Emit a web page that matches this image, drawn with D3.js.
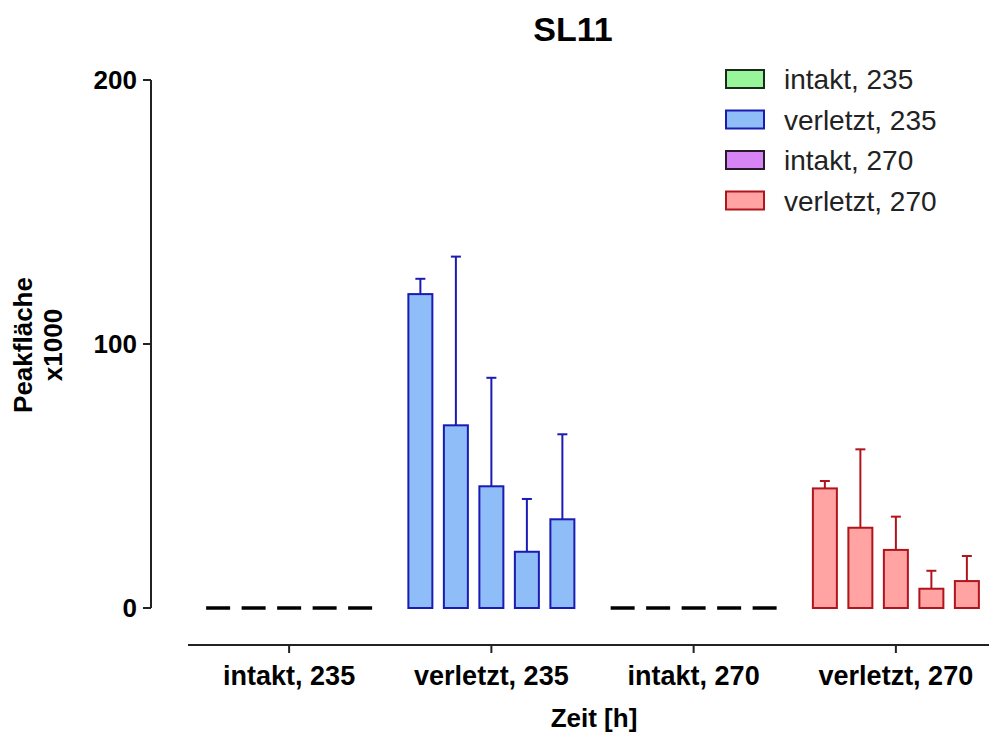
<!DOCTYPE html>
<html>
<head>
<meta charset="utf-8">
<script src="https://cdn.jsdelivr.net/npm/d3@7"></script>
<style>
body { margin: 0; background: #fff; }
text { font-family: "Liberation Sans", Arial, sans-serif; }
</style>
</head>
<body>
<div id="chart"></div>
<script>
// Gruppen (x-Achse) und Werte (Peakfläche x1000), je 5 Zeitpunkte
var groups = ["intakt, 235", "verletzt, 235", "intakt, 270", "verletzt, 270"];
var intakt235 = [0, 0, 0, 0, 0];
var verletzt235 = [118.9, 69.2, 46.1, 21.3, 33.6];
var intakt270 = [0, 0, 0, 0, 0];
var verletzt270 = [45.3, 30.4, 22.0, 7.3, 10.2];
// obere Fehlerbalken (SD)
var err235 = [5.8, 63.9, 41.1, 20.0, 32.2];
var err270 = [2.8, 29.7, 12.6, 6.8, 9.5];
var yTicks = [0, 100, 200];

var series = [
    {name: groups[0], values: intakt235, err: [0,0,0,0,0], fill: "#99f599", stroke: "#1b2b1b"},
    {name: groups[1], values: verletzt235, err: err235, fill: "#8fbdf7", stroke: "#1a1ab4"},
    {name: groups[2], values: intakt270, err: [0,0,0,0,0], fill: "#d784f6", stroke: "#2a1a2a"},
    {name: groups[3], values: verletzt270, err: err270, fill: "#ffa3a3", stroke: "#b0141c"}
];

var W = 989, H = 733;
var svg = d3.select("#chart").append("svg")
    .attr("width", W)
    .attr("height", H);

var y = d3.scaleLinear().domain([0, 200]).range([608, 80]);
var x = d3.scaleBand().domain(groups).range([188, 997]);
var xi = d3.scaleBand().domain(d3.range(5)).range([-83, 83]).paddingInner(0.324).paddingOuter(0);

// Titel
svg.append("text")
    .attr("x", 573).attr("y", 41)
    .attr("text-anchor", "middle")
    .style("font-size", "34px").style("font-weight", "bold")
    .text("SL11");

// y-Achse
var yAxis = svg.append("g");
yAxis.append("line")
    .attr("x1", 151).attr("x2", 151)
    .attr("y1", y(200)).attr("y2", y(0))
    .attr("stroke", "#222").attr("stroke-width", 2);
yAxis.selectAll(".ytick").data(yTicks).enter().append("line")
    .attr("x1", 143).attr("x2", 151)
    .attr("y1", function(d){ return y(d); })
    .attr("y2", function(d){ return y(d); })
    .attr("stroke", "#222").attr("stroke-width", 2);
yAxis.selectAll(".ylab").data(yTicks).enter().append("text")
    .attr("x", 137)
    .attr("y", function(d){ return y(d) + 9; })
    .attr("text-anchor", "end")
    .style("font-size", "26px").style("font-weight", "bold")
    .text(function(d){ return d; });

var ylab = svg.append("text")
    .attr("transform", "translate(32,345) rotate(-90)")
    .attr("text-anchor", "middle")
    .style("font-size", "26px").style("font-weight", "bold");
ylab.append("tspan").attr("x", 0).attr("dy", 0).text("Peakfläche");
ylab.append("tspan").attr("x", 0).attr("dy", 30).text("x1000");

// x-Achse
var xAxis = svg.append("g");
xAxis.append("line")
    .attr("x1", 188).attr("x2", W)
    .attr("y1", 645).attr("y2", 645)
    .attr("stroke", "#222").attr("stroke-width", 2);
xAxis.selectAll(".xtick").data(groups).enter().append("line")
    .attr("x1", function(d){ return x(d) + x.bandwidth()/2; })
    .attr("x2", function(d){ return x(d) + x.bandwidth()/2; })
    .attr("y1", 645).attr("y2", 653)
    .attr("stroke", "#222").attr("stroke-width", 2);
xAxis.selectAll(".xlab").data(groups).enter().append("text")
    .attr("x", function(d){ return x(d) + x.bandwidth()/2; })
    .attr("y", 685)
    .attr("text-anchor", "middle")
    .style("font-size", "27px").style("font-weight", "bold")
    .text(function(d){ return d; });
svg.append("text")
    .attr("x", 594).attr("y", 727)
    .attr("text-anchor", "middle")
    .style("font-size", "26px").style("font-weight", "bold")
    .text("Zeit [h]");

// Balken
series.forEach(function(s){
    var cx = x(s.name) + x.bandwidth()/2;
    var g = svg.append("g");
    var bars = g.selectAll(".bar").data(s.values.map(function(v, i){ return {i: i, v: v, e: s.err[i]}; }))
        .enter().append("g");

    // Fehlerbalken nach oben
    bars.filter(function(d){ return d.e > 0; }).append("line")
        .attr("x1", function(d){ return cx + xi(d.i) + xi.bandwidth()/2; })
        .attr("x2", function(d){ return cx + xi(d.i) + xi.bandwidth()/2; })
        .attr("y1", function(d){ return y(d.v); })
        .attr("y2", function(d){ return y(d.v + d.e); })
        .attr("stroke", s.stroke).attr("stroke-width", 2);
    bars.filter(function(d){ return d.e > 0; }).append("line")
        .attr("x1", function(d){ return cx + xi(d.i) + xi.bandwidth()/2 - 5; })
        .attr("x2", function(d){ return cx + xi(d.i) + xi.bandwidth()/2 + 5; })
        .attr("y1", function(d){ return y(d.v + d.e); })
        .attr("y2", function(d){ return y(d.v + d.e); })
        .attr("stroke", s.stroke).attr("stroke-width", 2);

    bars.filter(function(d){ return d.v > 0; }).append("rect")
        .attr("x", function(d){ return cx + xi(d.i); })
        .attr("width", xi.bandwidth())
        .attr("y", function(d){ return y(d.v); })
        .attr("height", function(d){ return y(0) - y(d.v); })
        .attr("fill", s.fill)
        .attr("stroke", s.stroke).attr("stroke-width", 2);

    // Nullwerte -> nur Linie
    bars.filter(function(d){ return d.v === 0; }).append("line")
        .attr("x1", function(d){ return cx + xi(d.i); })
        .attr("x2", function(d){ return cx + xi(d.i) + xi.bandwidth(); })
        .attr("y1", y(0)).attr("y2", y(0))
        .attr("stroke", "#000").attr("stroke-width", 3.5);
});

// Legende
var legend = svg.selectAll(".legend").data(series).enter().append("g")
    .attr("transform", function(d, i){ return "translate(726," + (70 + i*40.5) + ")"; });
legend.append("rect")
    .attr("width", 38).attr("height", 18)
    .attr("fill", function(d){ return d.fill; })
    .attr("stroke", function(d){ return d.stroke; })
    .attr("stroke-width", 2);
legend.append("text")
    .attr("x", 58).attr("y", 19)
    .style("font-size", "28px")
    .style("fill", "#222")
    .text(function(d){ return d.name; });
</script>
</body>
</html>
